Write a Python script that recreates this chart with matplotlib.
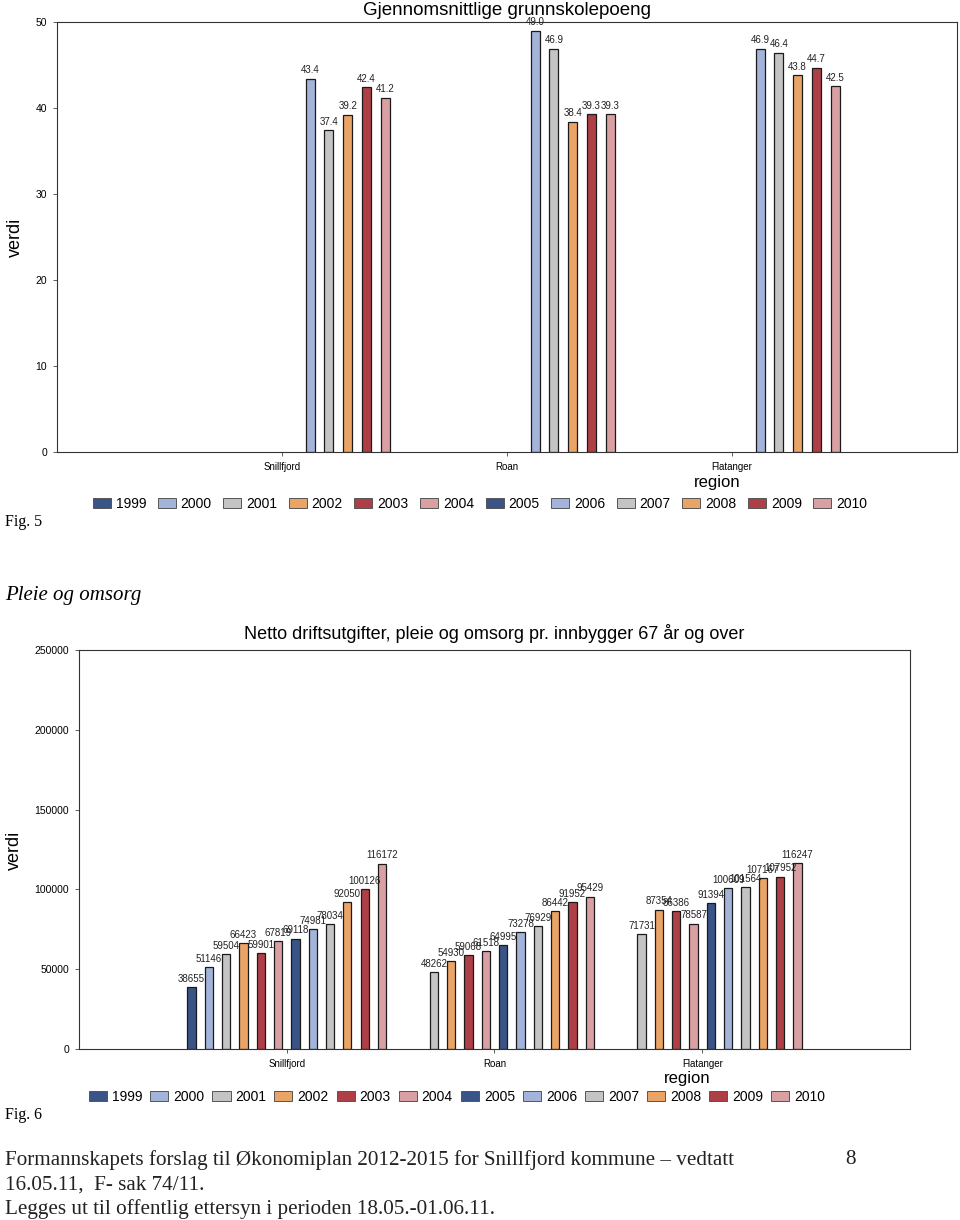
import numpy as np
import matplotlib
matplotlib.use("Agg")
import matplotlib.pyplot as plt
from matplotlib.patches import Patch

plt.rcParams['font.family'] = ['Liberation Sans', 'DejaVu Sans']

years = ['1999', '2000', '2001', '2002', '2003', '2004',
         '2005', '2006', '2007', '2008', '2009', '2010']
regions = ['Snillfjord', 'Roan', 'Flatanger']
nan = np.nan

# Fig. 5 - Gjennomsnittlige grunnskolepoeng (per region, per year)
skole_snillfjord = [nan, 43.4, 37.4, 39.2, 42.4, 41.2, nan, nan, nan, nan, nan, nan]
skole_roan = [nan, 49.0, 46.9, 38.4, 39.3, 39.3, nan, nan, nan, nan, nan, nan]
skole_flatanger = [nan, 46.9, 46.4, 43.8, 44.7, 42.5, nan, nan, nan, nan, nan, nan]

# Fig. 6 - Netto driftsutgifter pleie og omsorg pr. innbygger 67 år og over
pleie_snillfjord = [38655, 51146, 59504, 66423, 59901, 67819,
                    69118, 74981, 78034, 92050, 100126, 116172]
pleie_roan = [nan, nan, 48262, 54930, 59068, 61518,
              64995, 73278, 76929, 86442, 91952, 95429]
pleie_flatanger = [nan, nan, 71731, 87354, 86386, 78587,
                   91394, 100609, 101564, 107167, 107952, 116247]

base_colors = ['#3b5487', '#a3b3d9', '#c4c4c4', '#e9a466', '#ae3f47', '#d9a0a3']
colors = base_colors * 2

fig = plt.figure(figsize=(9.6, 12.2), dpi=100)


def draw(ax, data, title, yticks, fmt, centered, ylim, title_size, title_pad):
    n = len(years)
    w = 1.0 / n
    xs = np.arange(1, len(regions) + 1)
    for i in range(n):
        if centered:
            off = (i - (n - 1) / 2) * w
        else:
            off = (i + 0.5) * w
        vals = np.array([d[i] for d in data], dtype=float)
        ax.bar(xs + off, vals, width=0.04, color=colors[i],
               edgecolor='#1a1a1a', linewidth=0.9)
        for x, v in zip(xs + off, vals):
            if not np.isnan(v):
                ax.text(x, v + ylim * 0.008, fmt(v), ha='center', va='bottom',
                        fontsize=7, color='#222222')
    ax.set_xlim(0, 4)
    ax.set_ylim(0, ylim)
    ax.set_xticks(xs)
    ax.set_xticklabels(regions, fontsize=7)
    ax.set_yticks(yticks)
    ax.set_yticklabels([str(t) for t in yticks], fontsize=7.5)
    ax.tick_params(axis='both', length=3, width=0.6, color='#444444', pad=4)
    for s in ax.spines.values():
        s.set_linewidth(0.8)
        s.set_color('#333333')
    ax.set_title(title, fontsize=title_size, pad=title_pad)


ax1 = fig.add_axes([0.0594, 0.6295, 0.9375, 0.3525])
draw(ax1, [skole_snillfjord, skole_roan, skole_flatanger],
     'Gjennomsnittlige grunnskolepoeng', [0, 10, 20, 30, 40, 50],
     lambda v: f'{v:.1f}', False, 50, 13.5, 5)

ax2 = fig.add_axes([0.0823, 0.1402, 0.8656, 0.327])
draw(ax2, [pleie_snillfjord, pleie_roan, pleie_flatanger],
     'Netto driftsutgifter, pleie og omsorg pr. innbygger 67 år og over',
     [0, 50000, 100000, 150000, 200000, 250000],
     lambda v: f'{int(v)}', True, 250000, 13, 8)

fig.text(15 / 960, 1 - 237 / 1220, 'verdi', fontsize=13, rotation=90,
         ha='center', va='center')
fig.text(14 / 960, 1 - 850 / 1220, 'verdi', fontsize=13, rotation=90,
         ha='center', va='center')

fig.text(717 / 960, 1 - 483 / 1220, 'region', fontsize=12, ha='center', va='center')
fig.text(687 / 960, 1 - 1078 / 1220, 'region', fontsize=12, ha='center', va='center')

handles = [Patch(facecolor=colors[i], edgecolor='#555555', linewidth=0.7, label=years[i])
           for i in range(len(years))]
fig.legend(handles=handles, loc='center', bbox_to_anchor=(480 / 960, 1 - 504 / 1220),
           ncol=12, frameon=False, fontsize=10, handlelength=1.3, handleheight=0.8,
           handletextpad=0.35, columnspacing=0.83, borderpad=0)
fig.legend(handles=handles, loc='center', bbox_to_anchor=(457 / 960, 1 - 1097 / 1220),
           ncol=12, frameon=False, fontsize=10, handlelength=1.3, handleheight=0.8,
           handletextpad=0.35, columnspacing=0.58, borderpad=0)

serif = ['Liberation Serif', 'DejaVu Serif']
fig.text(5 / 960, 1 - 522 / 1220, 'Fig. 5', fontsize=11.5, family=serif, va='center')
fig.text(5 / 960, 1 - 596 / 1220, 'Pleie og omsorg', fontsize=15, family=serif,
         style='italic', va='center')
fig.text(5 / 960, 1 - 1115 / 1220, 'Fig. 6', fontsize=11.5, family=serif, va='center')
fig.text(5 / 960, 1 - 1160 / 1220,
         'Formannskapets forslag til Økonomiplan 2012-2015 for Snillfjord kommune – vedtatt',
         fontsize=15.2, family=serif, va='center', color='#222222')
fig.text(5 / 960, 1 - 1185 / 1220, '16.05.11,  F- sak 74/11.',
         fontsize=15.2, family=serif, va='center', color='#222222')
fig.text(5 / 960, 1 - 1209 / 1220,
         'Legges ut til offentlig ettersyn i perioden 18.05.-01.06.11.',
         fontsize=15.2, family=serif, va='center', color='#222222')
fig.text(850 / 960, 1 - 1160 / 1220, '8', fontsize=15.2, family=serif, va='center',
         ha='center', color='#222222')

fig.savefig('out.png', dpi=100)
